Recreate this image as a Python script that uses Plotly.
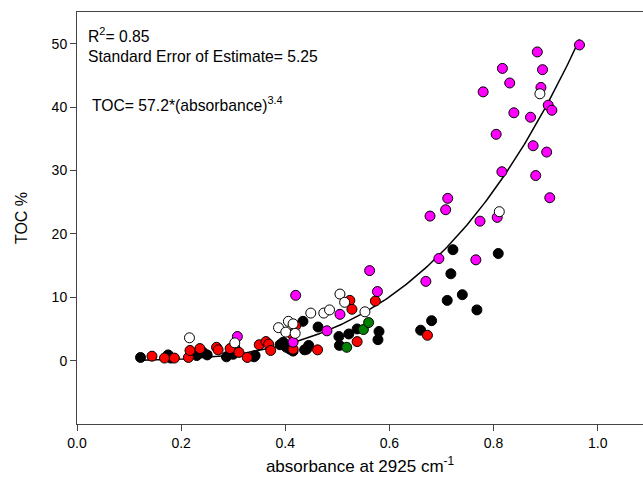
import numpy as np
import plotly.graph_objects as go

# absorbance at 2925 cm-1 vs TOC %, grouped by marker colour
black_x = [0.122, 0.175, 0.180, 0.230, 0.242, 0.250, 0.287, 0.303, 0.305, 0.300, 0.340, 0.342,
           0.396, 0.402, 0.409, 0.390, 0.415, 0.434, 0.437, 0.441, 0.445, 0.463, 0.503, 0.504,
           0.522, 0.538, 0.578, 0.580, 0.660, 0.681, 0.711, 0.718, 0.722, 0.740, 0.768, 0.809]
black_y = [0.5, 0.9, 0.4, 0.8, 1.3, 0.9, 0.6, 2.1, 1.6, 1.0, 0.6, 0.8,
           2.9, 2.1, 1.8, 2.5, 1.5, 6.2, 1.7, 1.8, 2.4, 5.3, 3.8, 2.4,
           4.2, 5.0, 3.3, 4.6, 4.8, 6.3, 9.5, 13.7, 17.5, 10.4, 8.0, 16.9]

red_x = [0.144, 0.168, 0.187, 0.214, 0.217, 0.236, 0.268, 0.271, 0.294, 0.311, 0.327, 0.350,
         0.363, 0.368, 0.372, 0.412, 0.415, 0.420, 0.462, 0.524, 0.528, 0.538, 0.573, 0.673]
red_y = [0.7, 0.4, 0.4, 0.5, 1.6, 1.9, 2.1, 1.7, 1.9, 1.3, 0.5, 2.5,
         3.0, 2.6, 1.6, 4.2, 1.8, 5.5, 1.7, 9.5, 8.1, 3.0, 9.4, 4.0]

green_x = [0.518, 0.550, 0.560]
green_y = [2.1, 4.9, 6.0]

white_x = [0.216, 0.303, 0.387, 0.401, 0.406, 0.415, 0.419, 0.449, 0.474, 0.485, 0.505,
           0.514, 0.553, 0.811, 0.889]
white_y = [3.6, 2.8, 5.2, 4.5, 6.2, 5.8, 4.3, 7.5, 7.5, 8.0, 10.5,
           9.2, 7.7, 23.5, 42.1]

magenta_x = [0.308, 0.415, 0.420, 0.480, 0.505, 0.562, 0.577, 0.670, 0.695, 0.766, 0.678,
             0.708, 0.712, 0.774, 0.807, 0.816, 0.881, 0.908, 0.876, 0.902, 0.805, 0.871,
             0.839, 0.905, 0.912, 0.780, 0.891, 0.831, 0.817, 0.894, 0.884, 0.965]
magenta_y = [3.8, 2.9, 10.3, 4.7, 7.3, 14.2, 10.9, 12.5, 16.1, 15.9, 22.8,
             23.8, 25.6, 22.0, 22.6, 29.8, 29.2, 25.7, 33.9, 32.9, 35.7, 38.4,
             39.1, 40.3, 39.5, 42.4, 43.1, 43.8, 46.1, 45.9, 48.7, 49.8]

# fitted power curve TOC = a * absorbance^b
fit_a = 57.2
fit_b = 3.4
fit_start, fit_end = 0.122, 0.965

x_ticks = [0.0, 0.2, 0.4, 0.6, 0.8, 1.0]
y_ticks = [0, 10, 20, 30, 40, 50]

fig = go.Figure()

fx = np.linspace(fit_start, fit_end, 200)
fig.add_trace(go.Scatter(x=fx, y=fit_a * fx ** fit_b, mode="lines",
                         line=dict(color="black", width=1.5), hoverinfo="skip"))

groups = [
    (black_x, black_y, "#000000"),
    (red_x, red_y, "#ff0000"),
    (green_x, green_y, "#008000"),
    (magenta_x, magenta_y, "#ff00ff"),
    (white_x, white_y, "#ffffff"),
]
for gx, gy, col in groups:
    fig.add_trace(go.Scatter(x=gx, y=gy, mode="markers",
                             marker=dict(size=10, color=col, line=dict(color="black", width=1))))

font = "Liberation Sans, Arial, sans-serif"
fig.update_layout(
    width=643, height=490,
    margin=dict(l=77, r=0, t=12, b=66, autoexpand=False),
    plot_bgcolor="white", paper_bgcolor="white",
    showlegend=False,
    font=dict(family=font, size=14, color="black"),
    xaxis=dict(range=[0, 1.087], tickvals=x_ticks, ticktext=["%.1f" % v for v in x_ticks],
               showgrid=False, zeroline=False, showline=True, linecolor="#444", linewidth=1,
               mirror=True, ticks="outside", ticklen=6, tickcolor="#444", automargin=False,
               title=dict(text="absorbance at 2925 cm<sup>-1</sup>", font=dict(size=17), standoff=10)),
    yaxis=dict(range=[-10, 55], tickvals=y_ticks, showgrid=False, zeroline=False,
               showline=True, linecolor="#444", linewidth=1, ticks="outside", ticklen=6,
               tickcolor="#444", automargin=False,
               title=dict(text="TOC %", font=dict(size=16), standoff=20)),
)

notes = [
    ("R<sup>2</sup>= 0.85", 9, -23),
    ("Standard Error of Estimate= 5.25", 9, -44),
    ("TOC= 57.2*(absorbance)<sup>3.4</sup>", 13, -92),
]
for txt, dx, dy in notes:
    fig.add_annotation(x=0, y=1, xref="paper", yref="paper", xanchor="left", yanchor="middle",
                       xshift=dx, yshift=dy, showarrow=False, align="left", text=txt,
                       font=dict(size=15.7))

fig.write_html("out.html", config={"displayModeBar": False},
               post_script="document.body.style.margin='0';document.body.style.overflow='hidden';")
